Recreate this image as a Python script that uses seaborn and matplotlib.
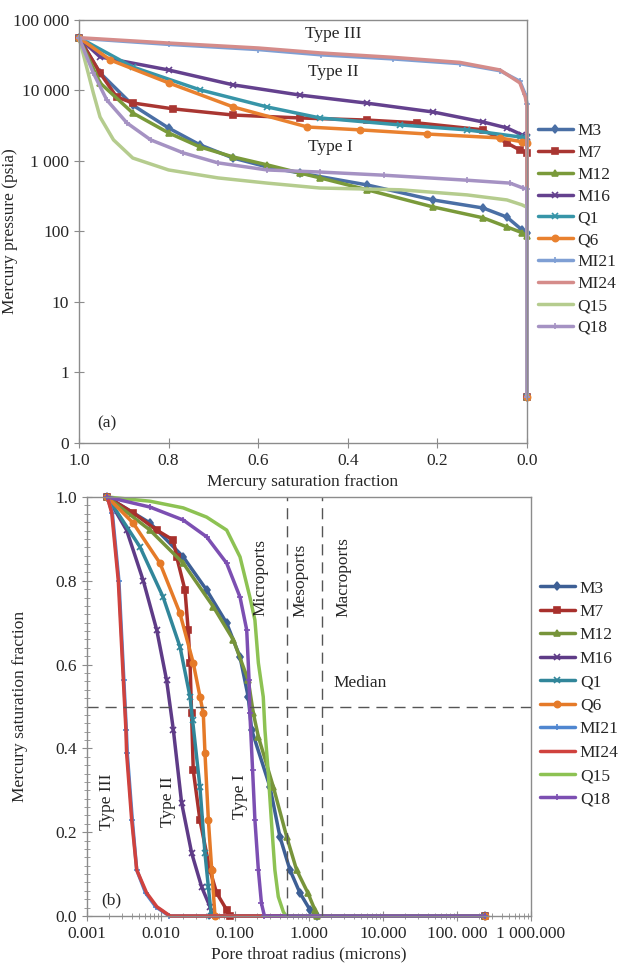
import matplotlib
matplotlib.use("Agg")
import matplotlib.pyplot as plt
import seaborn as sns
import numpy as np
import pandas as pd
from matplotlib.ticker import FixedLocator, FixedFormatter, LogLocator, NullFormatter, MultipleLocator

# ---- data ----
samples = ["M3", "M7", "M12", "M16", "Q1", "Q6", "MI21", "MI24", "Q15", "Q18"]

# (a) mercury saturation fraction vs mercury pressure (psia)
sat_a = {
    "M3":   [1.0, 0.953, 0.88, 0.80, 0.73, 0.656, 0.58, 0.507, 0.357, 0.21, 0.098, 0.045, 0.011, 0.0, 0.0],
    "M7":   [1.0, 0.953, 0.916, 0.88, 0.79, 0.656, 0.507, 0.357, 0.246, 0.098, 0.045, 0.016, 0.0, 0.0],
    "M12":  [1.0, 0.953, 0.88, 0.80, 0.73, 0.656, 0.58, 0.507, 0.462, 0.357, 0.21, 0.098, 0.045, 0.011, 0.0, 0.0],
    "M16":  [1.0, 0.953, 0.80, 0.656, 0.507, 0.357, 0.21, 0.098, 0.045, 0.011, 0.0, 0.0],
    "Q1":   [1.0, 0.88, 0.73, 0.58, 0.462, 0.283, 0.134, 0.016, 0.0, 0.0],
    "Q6":   [1.0, 0.93, 0.80, 0.656, 0.49, 0.373, 0.223, 0.06, 0.011, 0.0, 0.0],
    "MI21": [1.0, 0.8, 0.6, 0.46, 0.3, 0.15, 0.06, 0.016, 0.004, 0.0, 0.0],
    "MI24": [1.0, 0.8, 0.6, 0.46, 0.3, 0.15, 0.06, 0.016, 0.004, 0.0, 0.0],
    "Q15":  [1.0, 0.983, 0.968, 0.953, 0.923, 0.88, 0.80, 0.69, 0.58, 0.462, 0.283, 0.134, 0.045, 0.011, 0.0, 0.0],
    "Q18":  [1.0, 0.968, 0.938, 0.893, 0.84, 0.767, 0.69, 0.58, 0.462, 0.32, 0.134, 0.038, 0.009, 0.0, 0.0],
}
pres_a = {
    "M3":   [56000, 17700, 6190, 2930, 1690, 1100, 822, 675, 457, 280, 215, 160, 105, 95, 0.45],
    "M7":   [56000, 17700, 8090, 6640, 5480, 4480, 4070, 3800, 3470, 2760, 1800, 1430, 1300, 0.45],
    "M12":  [56000, 12800, 4790, 2500, 1580, 1140, 880, 675, 575, 390, 223, 156, 116, 96, 85, 0.45],
    "M16":  [56000, 29900, 19500, 12000, 8600, 6600, 4950, 3570, 2940, 2340, 2200, 0.45],
    "Q1":   [56000, 21500, 10200, 5830, 4070, 3240, 2760, 2190, 2100, 0.45],
    "Q6":   [56000, 27000, 12800, 5840, 3030, 2760, 2410, 2120, 1870, 1800, 0.45],
    "MI21": [55000, 45000, 38000, 32000, 28000, 24000, 19000, 13500, 8800, 6500, 0.45],
    "MI24": [56000, 47000, 40000, 34000, 29500, 25000, 19500, 12800, 8100, 6000, 0.45],
    "Q15":  [56000, 21500, 9200, 4200, 1990, 1100, 745, 575, 485, 413, 390, 330, 280, 238, 220, 0.45],
    "Q18":  [56000, 17700, 7330, 3460, 1990, 1300, 940, 745, 696, 628, 533, 485, 413, 400, 0.45],
}

# (b) pore throat radius (microns) vs mercury saturation fraction
rad_b = {
    "M3":   [0.00188, 0.0071, 0.02, 0.0414, 0.0772, 0.117, 0.151, 0.168, 0.297, 0.405, 0.553, 0.755, 1.03, 1.3, 240],
    "M7":   [0.00188, 0.00423, 0.00875, 0.0147, 0.0163, 0.0211, 0.0233, 0.0247, 0.0259, 0.0273, 0.0336, 0.0458, 0.0565, 0.077, 0.085, 240],
    "M12":  [0.00188, 0.0071, 0.02, 0.051, 0.095, 0.151, 0.177, 0.207, 0.33, 0.5, 0.68, 0.967, 1.2, 1.3, 240],
    "M16":  [0.00188, 0.00343, 0.00577, 0.00875, 0.0119, 0.0147, 0.019, 0.026, 0.0355, 0.046, 0.049, 240],
    "Q1":   [0.00188, 0.0052, 0.0107, 0.0181, 0.0247, 0.0267, 0.0336, 0.0393, 0.0437, 0.048, 240],
    "Q6":   [0.00188, 0.0042, 0.0097, 0.018, 0.0273, 0.0337, 0.0373, 0.0393, 0.0437, 0.0485, 0.0537, 240],
    "MI21": [0.00188, 0.0022, 0.0027, 0.00315, 0.0034, 0.0035, 0.0041, 0.0047, 0.0062, 0.0085, 0.013, 240],
    "MI24": [0.00188, 0.00216, 0.00265, 0.0031, 0.00336, 0.00343, 0.00402, 0.0047, 0.0064, 0.0088, 0.0133, 240],
    "Q15":  [0.00188, 0.0071, 0.02, 0.0414, 0.0772, 0.117, 0.159, 0.186, 0.207, 0.241, 0.254, 0.28, 0.31, 0.346, 0.385, 0.45, 0.49, 240],
    "Q18":  [0.00188, 0.0071, 0.02, 0.0414, 0.0772, 0.117, 0.144, 0.155, 0.159, 0.173, 0.186, 0.207, 0.228, 0.25, 240],
}
sat_b = {
    "M3":   [1.0, 0.938, 0.857, 0.778, 0.699, 0.618, 0.523, 0.444, 0.308, 0.189, 0.11, 0.055, 0.015, 0.0, 0.0],
    "M7":   [1.0, 0.962, 0.921, 0.897, 0.857, 0.778, 0.683, 0.604, 0.484, 0.348, 0.229, 0.11, 0.055, 0.015, 0.0, 0.0],
    "M12":  [1.0, 0.921, 0.842, 0.738, 0.659, 0.563, 0.484, 0.428, 0.308, 0.189, 0.11, 0.055, 0.015, 0.0, 0.0],
    "M16":  [1.0, 0.921, 0.80, 0.683, 0.563, 0.444, 0.27, 0.15, 0.069, 0.022, 0.0, 0.0],
    "Q1":   [1.0, 0.881, 0.761, 0.642, 0.523, 0.468, 0.308, 0.15, 0.069, 0.0, 0.0],
    "Q6":   [1.0, 0.938, 0.842, 0.723, 0.604, 0.523, 0.484, 0.389, 0.229, 0.11, 0.0, 0.0],
    "MI21": [1.0, 0.962, 0.80, 0.563, 0.444, 0.389, 0.229, 0.11, 0.055, 0.022, 0.0, 0.0],
    "MI24": [1.0, 0.962, 0.80, 0.563, 0.444, 0.389, 0.229, 0.11, 0.055, 0.022, 0.0, 0.0],
    "Q15":  [1.0, 0.99, 0.974, 0.952, 0.921, 0.857, 0.761, 0.706, 0.604, 0.523, 0.444, 0.348, 0.229, 0.11, 0.046, 0.01, 0.0, 0.0],
    "Q18":  [1.0, 0.976, 0.945, 0.905, 0.842, 0.761, 0.683, 0.563, 0.484, 0.348, 0.229, 0.11, 0.03, 0.0, 0.0],
}

colors_a = ["#4A6FA5", "#A93632", "#7A9A3A", "#64418E", "#3795A8",
            "#E9812F", "#7F9FD4", "#D58C8A", "#B5CC8E", "#A592C3"]
colors_b = ["#3D5F95", "#A8302C", "#77943A", "#5E3B87", "#31869A",
            "#E57A28", "#4F86D0", "#D0423E", "#8DC253", "#7C4FB2"]
markers = ["d", "s", "^", "x", "x", "o", "+", "", "", "+"]

ytick_a = [0.1, 1, 10, 100, 1000, 10000, 100000]
ylab_a = ["0", "1", "10", "100", "1 000", "10 000", "100 000"]
xtick_b = [0.001, 0.01, 0.1, 1, 10, 100, 1000]
xlab_b = ["0.001", "0.010", "0.100", "1.000", "10.000", "100. 000", "1 000.000"]

sns.set_style("ticks")
plt.rcParams["font.family"] = ["Liberation Serif", "DejaVu Serif"]
plt.rcParams["font.size"] = 12.5

fig = plt.figure(figsize=(6.24, 9.63), dpi=100)
ax1 = fig.add_axes([0.1266, 0.540, 0.718, 0.4393])
ax2 = fig.add_axes([0.1394, 0.0488, 0.7115, 0.4351])

for i, s in enumerate(samples):
    d = pd.DataFrame({"S": sat_a[s], "P": pres_a[s]})
    sns.lineplot(data=d, x="S", y="P", ax=ax1, sort=False, estimator=None,
                 color=colors_a[i], lw=2.5, marker=markers[i] or None,
                 markersize=4.5, markeredgewidth=1.2, markeredgecolor=colors_a[i],
                 label=s, clip_on=False)
    d2 = pd.DataFrame({"r": rad_b[s], "S": sat_b[s]})
    sns.lineplot(data=d2, x="r", y="S", ax=ax2, sort=False, estimator=None,
                 color=colors_b[i], lw=2.5, marker=markers[i] or None,
                 markersize=4.5, markeredgewidth=1.2, markeredgecolor=colors_b[i],
                 label=s, clip_on=False)

gray = "#8c8c8c"
for ax in (ax1, ax2):
    for sp in ax.spines.values():
        sp.set_color(gray)
        sp.set_linewidth(1.0)
    ax.tick_params(which="both", color=gray, direction="inout", labelsize=12.5)
    ax.tick_params(which="major", length=7)
    ax.tick_params(which="minor", length=4)

# panel (a)
ax1.set_yscale("log")
ax1.set_ylim(0.1, 100000)
ax1.set_xlim(1.0, 0.0)
ax1.yaxis.set_major_locator(FixedLocator(ytick_a))
ax1.yaxis.set_major_formatter(FixedFormatter(ylab_a))
ax1.yaxis.set_minor_locator(FixedLocator([]))
ax1.xaxis.set_major_locator(MultipleLocator(0.2))
ax1.xaxis.set_major_formatter(matplotlib.ticker.FormatStrFormatter("%.1f"))
ax1.set_xlabel("Mercury saturation fraction", fontsize=12.5)
ax1.set_ylabel("Mercury pressure (psia)", fontsize=12.5)
ax1.xaxis.set_label_coords(0.5, -0.073)
ax1.yaxis.set_label_coords(-0.136, 0.5)
ax1.text(0.567, 0.967, "Type III", transform=ax1.transAxes, ha="center", va="center", fontsize=12.5)
ax1.text(0.567, 0.877, "Type II", transform=ax1.transAxes, ha="center", va="center", fontsize=12.5)
ax1.text(0.56, 0.70, "Type I", transform=ax1.transAxes, ha="center", va="center", fontsize=12.5)
ax1.text(0.0625, 0.047, "(a)", transform=ax1.transAxes, ha="center", va="center", fontsize=12.5)
ax1.legend(loc="center left", bbox_to_anchor=(1.024, 0.505), frameon=False,
           borderpad=0, borderaxespad=0, handlelength=2.0, handletextpad=0.3,
           labelspacing=0.33, fontsize=12.5)

# panel (b)
ax2.set_xscale("log")
ax2.set_xlim(0.001, 1000)
ax2.set_ylim(0, 1.0)
ax2.xaxis.set_major_locator(FixedLocator(xtick_b))
ax2.xaxis.set_major_formatter(FixedFormatter(xlab_b))
ax2.xaxis.set_minor_locator(LogLocator(base=10, subs=np.arange(2, 10), numticks=20))
ax2.xaxis.set_minor_formatter(NullFormatter())
ax2.yaxis.set_major_locator(MultipleLocator(0.2))
ax2.yaxis.set_minor_locator(MultipleLocator(0.02))
ax2.yaxis.set_major_formatter(matplotlib.ticker.FormatStrFormatter("%.1f"))
ax2.set_xlabel("Pore throat radius (microns)", fontsize=12.5)
ax2.set_ylabel("Mercury saturation fraction", fontsize=12.5)
ax2.xaxis.set_label_coords(0.5, -0.073)
ax2.yaxis.set_label_coords(-0.133, 0.5)

dash = dict(color="#555555", lw=1.0, ls=(0, (8, 5)))
ax2.axhline(0.5, **dash)
ax2.axvline(0.5, **dash)
ax2.axvline(1.5, **dash)

rot = dict(transform=ax2.transAxes, ha="center", va="center", rotation=90, fontsize=12.5)
ax2.text(0.39, 0.809, "Microports", **rot)
ax2.text(0.48, 0.80, "Mesoports", **rot)
ax2.text(0.577, 0.809, "Macroports", **rot)
ax2.text(0.045, 0.272, "Type III", **rot)
ax2.text(0.182, 0.272, "Type II", **rot)
ax2.text(0.345, 0.284, "Type I", **rot)
ax2.text(0.615, 0.556, "Median", transform=ax2.transAxes, ha="center", va="center", fontsize=12.5)
ax2.text(0.054, 0.038, "(b)", transform=ax2.transAxes, ha="center", va="center", fontsize=12.5)
ax2.legend(loc="center left", bbox_to_anchor=(1.02, 0.53), frameon=False,
           borderpad=0, borderaxespad=0, handlelength=2.0, handletextpad=0.3,
           labelspacing=0.42, fontsize=12.5)

fig.savefig("out.png", dpi=100)
